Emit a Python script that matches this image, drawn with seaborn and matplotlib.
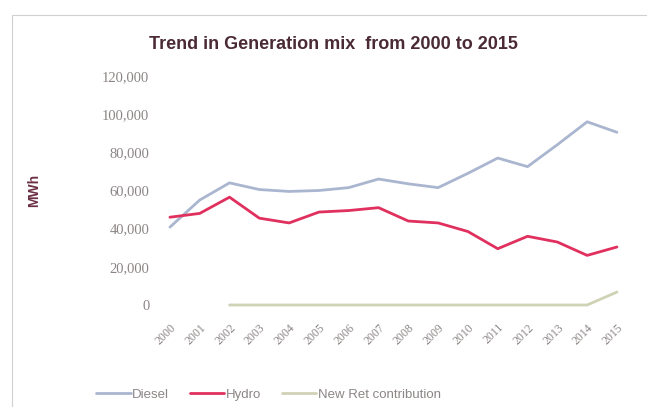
import numpy as np
import pandas as pd
import matplotlib.pyplot as plt
import seaborn as sns
from matplotlib.patches import Rectangle

# ── Datos ───────────────────────────────────────────────────────────────────
years = list(range(2000, 2016))
diesel = [40800, 55000, 64000, 60500, 59500, 60000, 61500, 66000,
          63500, 61500, 69000, 77000, 72500, 84000, 96000, 90500]
hydro = [46000, 48000, 56500, 45500, 43000, 48700, 49500, 51000,
         44000, 43000, 38500, 29500, 36000, 33000, 26000, 30400]
new_re = [np.nan, np.nan, 0, 0, 0, 0, 0, 0,
          0, 0, 0, 0, 0, 0, 0, 6800]
series_names = ["Diesel", "Hydro", "New Ret contribution"]
colors = ["#aab6d0", "#e0305e", "#d0d2b6"]
yticks = [0, 20000, 40000, 60000, 80000, 100000, 120000]

df = pd.DataFrame({"Year": years, "Diesel": diesel, "Hydro": hydro,
                   "New Ret contribution": new_re})
long = df.melt(id_vars="Year", var_name="Source", value_name="MWh").dropna()

sns.set_style("white")
plt.rcParams["font.family"] = ["Liberation Sans", "DejaVu Sans"]

fig = plt.figure(figsize=(6.47, 4.07), dpi=100)
ax = fig.add_axes([0.2396, 0.2506, 0.737, 0.5627])

sns.lineplot(data=long, x="Year", y="MWh", hue="Source", hue_order=series_names,
             palette=colors, linewidth=2.0, ax=ax, legend=False, clip_on=False)

ax.set_xlim(1999.5, 2015.5)
ax.set_ylim(0, 120000)
ax.set_yticks(yticks)
ax.set_yticklabels([f"{v:,}" for v in yticks], color="#8c8585", fontsize=10.5,
                   family=["Liberation Serif", "DejaVu Serif"])
ax.set_xticks(years)
ax.set_xticklabels([str(y) for y in years], rotation=45, ha="right",
                   rotation_mode="anchor", color="#8c8585", fontsize=8.5,
                   family=["Liberation Serif", "DejaVu Serif"])
ax.tick_params(axis="both", length=0)
ax.tick_params(axis="x", pad=12)
ax.tick_params(axis="y", pad=4)
for s in ax.spines.values():
    s.set_visible(False)
ax.set_xlabel("")
ax.set_ylabel("MWh", fontweight="bold", color="#6b2f45", fontsize=10, labelpad=44)

fig.text(0.515, 0.89, "Trend in Generation mix  from 2000 to 2015",
         ha="center", va="center", fontsize=13, fontweight="bold",
         color="#4a2a35", family=["Liberation Sans", "DejaVu Sans"])

# leyenda inferior
handles = [plt.Line2D([], [], color=c, linewidth=2) for c in colors]
fig.legend(handles, series_names, loc="center", bbox_to_anchor=(0.415, 0.03),
           ncol=3, frameon=False, fontsize=9.5, labelcolor="#8c8585",
           handlelength=2.6, handletextpad=0.1, columnspacing=1.6)

# borde del área del gráfico
fig.patches.append(Rectangle((0.019, -0.05), 1.2, 1.013, transform=fig.transFigure,
                             fill=False, edgecolor="#d0d0d0", linewidth=0.8))

fig.savefig("out.png", dpi=100)
